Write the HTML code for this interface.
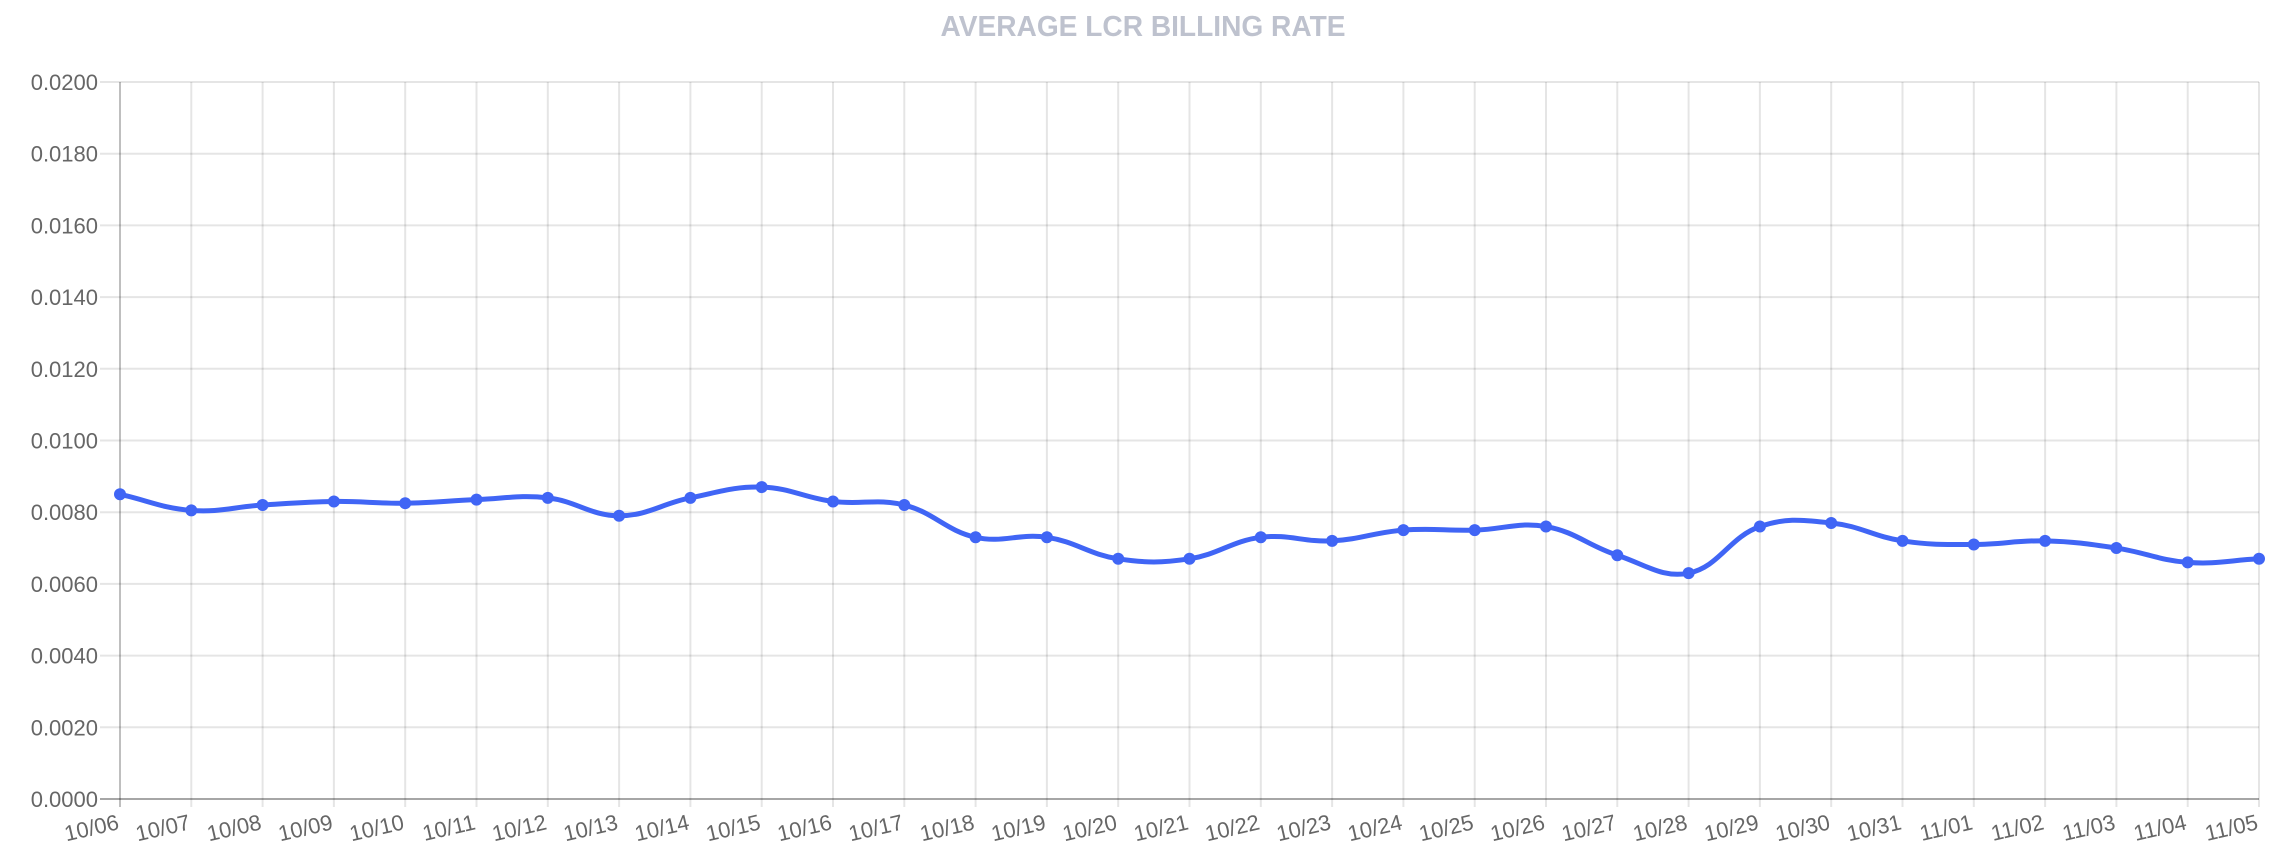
<!DOCTYPE html>
<html><head><meta charset="utf-8"><style>
html,body{margin:0;padding:0;background:#fff;}
svg{display:block;font-family:"Liberation Sans",sans-serif;}
</style></head><body>
<svg id="chart" width="2282" height="862" xmlns="http://www.w3.org/2000/svg">
<text x="1143" y="36" text-anchor="middle" font-size="29" font-weight="bold" fill="#bec2ce" textLength="405" lengthAdjust="spacingAndGlyphs">AVERAGE LCR BILLING RATE</text>
<g id="grid"></g>
<g id="axes"></g>
<g id="series"></g>
</svg>
<script>
const categories = ["10/06","10/07","10/08","10/09","10/10","10/11","10/12","10/13","10/14","10/15","10/16","10/17","10/18","10/19","10/20","10/21","10/22","10/23","10/24","10/25","10/26","10/27","10/28","10/29","10/30","10/31","11/01","11/02","11/03","11/04","11/05"];
const rates = [0.0085,0.00805,0.0082,0.0083,0.00825,0.00835,0.0084,0.0079,0.0084,0.0087,0.0083,0.0082,0.0073,0.0073,0.0067,0.0067,0.0073,0.0072,0.0075,0.0075,0.0076,0.0068,0.0063,0.0076,0.0077,0.0072,0.0071,0.0072,0.0070,0.0066,0.0067];
const yTicks = [0,0.002,0.004,0.006,0.008,0.010,0.012,0.014,0.016,0.018,0.020];
const yTickLabels = ["0.0000","0.0020","0.0040","0.0060","0.0080","0.0100","0.0120","0.0140","0.0160","0.0180","0.0200"];

const NS="http://www.w3.org/2000/svg";
const L=120,R=2259,T=82,B=799,YMAX=0.02;
const xs=i=>L+(R-L)*i/(categories.length-1);
const ys=v=>B-(B-T)*v/YMAX;
function mk(tag,attrs,parent){const e=document.createElementNS(NS,tag);for(const k in attrs)e.setAttribute(k,attrs[k]);parent.appendChild(e);return e;}
const grid=document.getElementById('grid'),axes=document.getElementById('axes'),series=document.getElementById('series');

yTicks.forEach((t,i)=>{
  const y=ys(t);
  const g=mk('line',{x1:100,x2:R,y1:y,y2:y,stroke:i===0?'rgba(0,0,0,0.35)':'rgba(0,0,0,0.1)','stroke-width':2},grid);
  
  
  const tx=mk('text',{x:98,y:y+8,'text-anchor':'end','font-size':22,fill:'#666'},axes);
  tx.textContent=yTickLabels[i];
  
  
});
categories.forEach((c,i)=>{
  const x=xs(i);
  const g=mk('line',{x1:x,x2:x,y1:T,y2:B+8,stroke:i===0?'rgba(0,0,0,0.25)':'rgba(0,0,0,0.1)','stroke-width':2},grid);
  
  
  const tx=mk('text',{x:x,y:B+30,'text-anchor':'end','font-size':22,fill:'#666',transform:`rotate(-13 ${x} ${B+30})`},axes);
  tx.textContent=c;
  
  
});

// Chart.js-style spline, tension 0.4
const pts=rates.map((v,i)=>({x:xs(i),y:ys(v)}));
const tension=0.4;
const cps=pts.map((p,i)=>{
  const prev=pts[i-1]||p,next=pts[i+1]||p;
  const d01=Math.hypot(p.x-prev.x,p.y-prev.y),d12=Math.hypot(next.x-p.x,next.y-p.y);
  let fa=d01/(d01+d12)||0,fb=d12/(d01+d12)||0;
  fa*=tension;fb*=tension;
  return {px:p.x-fa*(next.x-prev.x),py:p.y-fa*(next.y-prev.y),nx:p.x+fb*(next.x-prev.x),ny:p.y+fb*(next.y-prev.y)};
});
let d=`M${pts[0].x},${pts[0].y}`;
for(let i=1;i<pts.length;i++){d+=` C${cps[i-1].nx},${cps[i-1].ny} ${cps[i].px},${cps[i].py} ${pts[i].x},${pts[i].y}`;}
const path=mk('path',{d:d,fill:'none',stroke:'#4065f5','stroke-width':5,'stroke-linejoin':'round'},series);


pts.forEach(p=>{
  const c=mk('circle',{cx:p.x,cy:p.y,r:6,fill:'#4065f5'},series);
  
  
});
</script>
</body></html>
